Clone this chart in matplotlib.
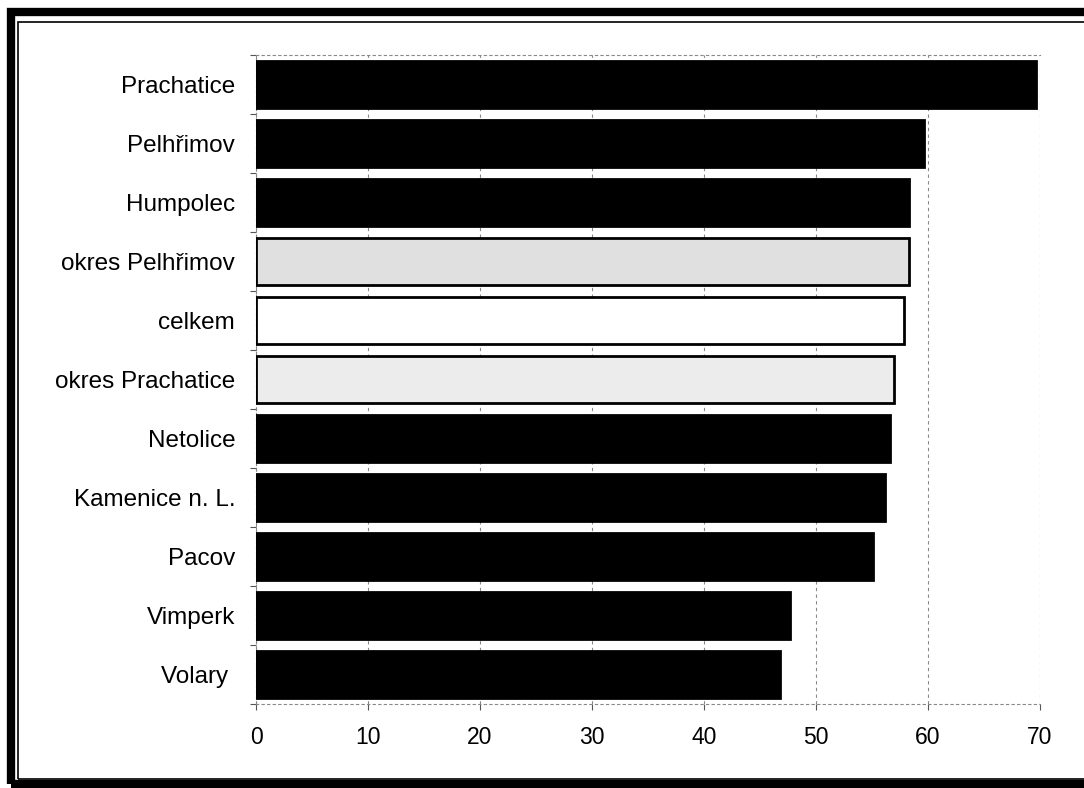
import matplotlib.pyplot as plt
from matplotlib.patches import Rectangle
import numpy as np

# data (top to bottom)
labels = ['Prachatice', 'Pelhřimov', 'Humpolec', 'okres Pelhřimov', 'celkem',
          'okres Prachatice', 'Netolice', 'Kamenice n. L.', 'Pacov', 'Vimperk', 'Volary ']
values = [69.6, 59.6, 58.3, 58.3, 57.9, 57.0, 56.6, 56.2, 55.1, 47.7, 46.8]
fills = ['black', 'black', 'black', '#e0e0e0', 'white', '#ececec',
         'black', 'black', 'black', 'black', 'black']
xticks = [0, 10, 20, 30, 40, 50, 60, 70]

plt.rcParams['font.family'] = ['Liberation Sans', 'DejaVu Sans']

fig = plt.figure(figsize=(10.84, 7.88), dpi=100)
ax = fig.add_axes([0.2362, 0.1066, 0.7232, 0.8236])

y = np.arange(len(labels))
ax.barh(y, values, height=0.8, color=fills, edgecolor='black', linewidth=2, zorder=3)

ax.set_ylim(len(labels) - 0.5, -0.5)
ax.set_xlim(0, 70)
ax.set_yticks(y)
ax.set_yticklabels(labels, fontsize=17.5)
ax.set_yticks(np.arange(-0.5, len(labels), 1), minor=True)
ax.tick_params(axis='y', which='major', length=0, pad=15)
ax.tick_params(axis='y', which='minor', length=4, color='#555555', width=0.8)
ax.set_xticks(xticks)
ax.tick_params(axis='x', labelsize=16.5, length=4, color='#555555', width=0.8, pad=12)

ax.grid(axis='x', color='#888888', linestyle=(0, (3, 3)), linewidth=0.8, zorder=0)
for s in ax.spines.values():
    s.set_color('#888888')
    s.set_linestyle((0, (2, 3)))
    s.set_linewidth(0.8)
ax.spines['right'].set_visible(False)

# double frame around the chart
fig.patches.append(Rectangle((11 / 1084, 4 / 788), 1.05, 772 / 788, transform=fig.transFigure,
                             fill=False, edgecolor='black', linewidth=6))
fig.patches.append(Rectangle((18 / 1084, 9 / 788), 1.05, 757 / 788, transform=fig.transFigure,
                             fill=False, edgecolor='black', linewidth=1.2))

fig.savefig('out.png', dpi=100)
